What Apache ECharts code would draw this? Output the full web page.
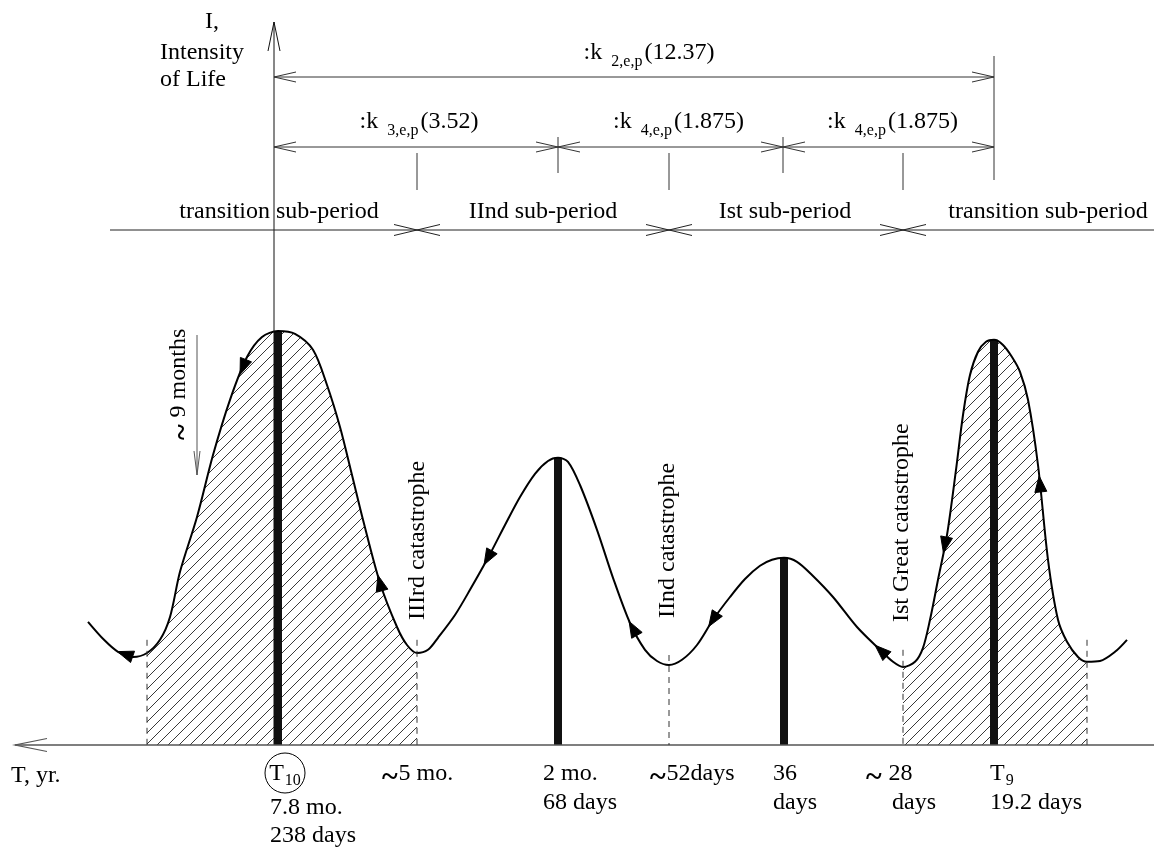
<!DOCTYPE html>
<html><head><meta charset="utf-8">
<script src="https://cdn.jsdelivr.net/npm/echarts@6/dist/echarts.min.js"></script>
<style>html,body{margin:0;padding:0;background:#fff}#c{width:1154px;height:849px}</style>
</head><body><div id="c"></div>
<script>
// ---------------- DATA (schematic units: T position, Intensity of Life) ----------------
const curveT = [8.8,10.4,11.8,13.3,14.7,16.0,17.0,18.0,19.7,21.3,23.0,24.7,26.2,27.8,29.5,31.3,32.7,34.0,35.2,36.3,38.0,39.7,40.7,41.7,42.8,43.8,45.5,47.0,48.8,50.5,52.0,53.5,54.8,55.8,56.8,58.0,59.7,61.3,63.0,64.5,65.7,66.9,68.2,69.7,71.3,73.0,74.5,76.0,77.2,78.4,79.7,81.2,83.3,85.7,88.0,89.3,90.3,91.5,92.3,93.0,93.8,94.7,95.6,96.3,97.0,97.8,98.6,99.4,100.3,101.2,102.0,102.8,103.8,104.8,105.8,106.7,107.8,108.7,110.0,111.5,112.7];
const curveI = [30.8,26.3,23.3,22.0,23.0,26.3,32.0,43.3,57.0,72.5,86.3,97.0,102.0,103.5,102.8,98.8,90.0,79.5,67.5,56.3,40.5,29.5,25.0,23.0,23.8,26.8,32.5,38.8,46.8,55.0,62.0,67.8,71.0,71.8,70.8,65.0,53.8,41.8,30.5,23.8,21.0,20.0,21.3,25.0,31.3,37.0,41.5,44.8,46.3,46.8,45.8,42.5,37.0,29.5,23.8,20.8,19.5,20.8,24.3,31.3,41.3,52.5,68.8,82.5,92.5,98.3,100.8,101.3,100.0,97.0,93.3,86.3,70.0,46.3,31.3,25.8,22.0,20.8,21.0,23.3,26.3];
const hatchRanges = [[14.7, 41.7], [90.3, 108.7]];
const peakT = [27.8, 55.8, 78.4, 99.4];
const peakI = [103.5, 71.8, 46.8, 101.3];
const catastropheT = [14.7, 41.7, 66.9, 90.3, 108.7];
const catastropheTop = [26.3, 26.3, 22.5, 23.8, 26.3];
const catastropheNames = ['IIIrd catastrophe', 'IInd catastrophe', 'Ist Great catastrophe'];
const arrowT = [12.5, 24.3, 38.0, 48.8, 63.3, 71.3, 88.1, 94.5, 104.0];
const kIndex = ['2,e,p', '3,e,p', '4,e,p', '4,e,p'];
const kValue = ['12.37', '3.52', '1.875', '1.875'];
const kFrom = [27.4, 27.4, 55.8, 78.3];
const kTo = [99.4, 55.8, 78.3, 99.4];
const subPeriodNames = ['transition sub-period', 'IInd sub-period', 'Ist sub-period', 'transition sub-period'];
const subPeriodBounds = [41.7, 66.9, 90.3];
const tickLine1 = ['T|10', '~5 mo.', '2 mo.', '~52days', '36', '~ 28', 'T|9'];
const tickLine2 = ['7.8 mo.', '', '68 days', '', 'days', 'days', '19.2 days'];
const tickLine3 = ['238 days', '', '', '', '', '', ''];
const axisTitleI = ['I,', 'Intensity', 'of Life'];
const axisTitleT = 'T, yr.';
const durationNote = '~ 9 months';

// ---------------- LAYOUT (positions in the same units) ----------------
const L = {
  xMax: 115.4, yMin: -26, yMax: 186.25,
  axisT: 27.4, axisTop: 180.75,
  rowK2: 167, rowK34: 149.5, rowSub: 128.75,
  kLabelY: [173, 155.75, 155.75, 155.75], kLabelShift: [1.5, 0.3, 0.8, 0.4],
  subLabelY: 133.25, subLabelX: [27.9, 54.3, 78.5, 104.8], subLineFrom: 11.0,
  catLabelX: [41.8, 66.8, 90.2], catLabelY: [31.25, 31.75, 30.75],
  tick1X: [28.5, 38.2, 54.3, 65.0, 77.3, 86.6, 99.0], tick2X: [27.0, 0, 54.3, 0, 77.3, 89.2, 99.0],
  tickY: [-7.25, -14.5], tickYT10: [-15.75, -22.75],
  monthsX: 17.9, monthsY: 76.25, monthsArrowX: 19.7, monthsArrowTop: 102.5, monthsArrowBot: 67.5
};
const FONT = '"Liberation Serif","Times New Roman",serif';

const curve = curveT.map((t, i) => [t, curveI[i]]);
const part = (a, b) => curve.filter(p => p[0] >= a - 1e-9 && p[0] <= b + 1e-9);

// hatch pattern
const pc = document.createElement('canvas'); pc.width = 11; pc.height = 11;
const g = pc.getContext('2d'); g.strokeStyle = '#222'; g.lineWidth = 0.9;
g.beginPath(); g.moveTo(0, 11); g.lineTo(11, 0); g.moveTo(-1, 1); g.lineTo(1, -1); g.moveTo(10, 12); g.lineTo(12, 10); g.stroke();

const rich = {
  a: { fontFamily: FONT, fontSize: 24, fill: '#000' },
  s: { fontFamily: FONT, fontSize: 16, fill: '#000', padding: [18, 2, 0, 9] },
  t: { fontFamily: FONT, fontSize: 16, fill: '#000', padding: [14, 0, 0, 1] },
  w: { fontFamily: FONT, fontSize: 30, fontWeight: 'bold', fill: '#000', padding: [8, 1, 0, 0] }
};
const tilde = s => s.split('~').map(x => x ? '{a|' + x + '}' : '').join('{w|~}');

function renderAnno(params, api) {
  const P = (t, i) => api.coord([t, i]);
  const ch = [];
  const seg = (a, b, w, c, dash) => { const st = { stroke: c || '#222', lineWidth: w || 1 }; if (dash) st.lineDash = dash; ch.push({ type: 'line', shape: { x1: a[0], y1: a[1], x2: b[0], y2: b[1] }, style: st }); };
  const vArrow = (tip, dx, dy, len, half, w, c) => {
    const bx = tip[0] - dx * len, by = tip[1] - dy * len, px = -dy, py = dx;
    ch.push({ type: 'polyline', shape: { points: [[bx + px * half, by + py * half], tip, [bx - px * half, by - py * half]] }, style: { stroke: c || '#222', lineWidth: w || 1, fill: null } });
  };
  const txt = (p, text, style, rot) => ch.push({ type: 'text', x: p[0], y: p[1], rotation: rot || 0, style: Object.assign({ text, fontFamily: FONT, fontSize: 24, fill: '#000', align: 'left', verticalAlign: 'middle' }, style || {}) });

  // I axis
  seg(P(L.axisT, 0), P(L.axisT, L.axisTop), 1, '#111');
  vArrow(P(L.axisT, L.axisTop), 0, -1, 29, 6, 1, '#111');
  txt(P(21.2, 180.75), axisTitleI[0], { align: 'center' });
  txt(P(16.0, 173), axisTitleI[1]);
  txt(P(16.0, 166.25), axisTitleI[2]);
  // T axis
  seg(P(1.5, 0), P(L.xMax, 0), 1.5, '#555');
  vArrow(P(1.5, 0), -1, 0, 32, 6.5, 1.2, '#555');
  txt(P(1.1, -7.75), axisTitleT);

  // k spans
  kFrom.forEach((f, i) => {
    const y = i === 0 ? L.rowK2 : L.rowK34;
    seg(P(f, y), P(kTo[i], y), 1, '#333');
    vArrow(P(f, y), -1, 0, 22, 5, 1, '#333');
    vArrow(P(kTo[i], y), 1, 0, 22, 5, 1, '#333');
    txt(P((f + kTo[i]) / 2 + L.kLabelShift[i], L.kLabelY[i]), '{a|:k}{s|' + kIndex[i] + '}{a|(' + kValue[i] + ')}', { align: 'center', rich });
  });
  seg(P(99.4, 141.25), P(99.4, 172.25), 1, '#333');
  [55.8, 78.3].forEach(t => seg(P(t, 143), P(t, 152), 1, '#333'));
  subPeriodBounds.forEach(t => seg(P(t, 138.75), P(t, 148), 1, '#333'));

  // sub-periods
  seg(P(L.subLineFrom, L.rowSub), P(L.xMax, L.rowSub), 1, '#222');
  subPeriodBounds.forEach(t => { vArrow(P(t, L.rowSub), 1, 0, 23, 5.5, 1, '#222'); vArrow(P(t, L.rowSub), -1, 0, 23, 5.5, 1, '#222'); });
  subPeriodNames.forEach((n, i) => txt(P(L.subLabelX[i], L.subLabelY), n, { align: 'center' }));

  // catastrophe dashed lines and names
  catastropheT.forEach((t, i) => seg(P(t, catastropheTop[i]), P(t, 0), 1, '#333', [6, 5]));
  catastropheNames.forEach((n, i) => txt(P(L.catLabelX[i], L.catLabelY[i]), n, {}, Math.PI / 2));

  // ~9 months
  txt(P(L.monthsX, L.monthsY), tilde(durationNote), { rich }, Math.PI / 2);
  seg(P(L.monthsArrowX, L.monthsArrowTop), P(L.monthsArrowX, L.monthsArrowBot), 1, '#555');
  vArrow(P(L.monthsArrowX, L.monthsArrowBot), 0, 1, 24, 3, 1, '#555');

  // bottom tick labels
  tickLine1.forEach((s, i) => {
    if (s.indexOf('|') >= 0) {
      const [a, b] = s.split('|');
      const p = P(L.tick1X[i], L.tickY[0]);
      txt(p, '{a|' + a + '}{t|' + b + '}', { align: i === 0 ? 'center' : 'left', rich });
      if (i === 0) ch.push({ type: 'circle', shape: { cx: p[0], cy: p[1] - 1, r: 20 }, style: { stroke: '#000', lineWidth: 1, fill: null } });
    } else txt(P(L.tick1X[i], L.tickY[0]), tilde(s), { rich });
    const y2 = i === 0 ? L.tickYT10 : [L.tickY[1]];
    if (tickLine2[i]) txt(P(L.tick2X[i], y2[0]), tickLine2[i]);
    if (tickLine3[i]) txt(P(L.tick2X[i], y2[1]), tickLine3[i]);
  });

  // direction arrows on the curve (travel from right to left)
  const pix = curve.map(p => P(p[0], p[1]));
  arrowT.forEach(t => {
    let k = 0; while (k < curve.length - 2 && curve[k + 1][0] < t) k++;
    const a = curve[k], b = curve[k + 1], f = (t - a[0]) / (b[0] - a[0]);
    const p = P(t, a[1] + (b[1] - a[1]) * f);
    let dx = pix[k][0] - pix[k + 1][0], dy = pix[k][1] - pix[k + 1][1];
    const n = Math.hypot(dx, dy); dx /= n; dy /= n;
    const tip = [p[0] + dx * 8, p[1] + dy * 8], bc = [p[0] - dx * 8, p[1] - dy * 8];
    ch.push({ type: 'polygon', shape: { points: [tip, [bc[0] - dy * 6, bc[1] + dx * 6], [bc[0] + dy * 6, bc[1] - dx * 6]] }, style: { fill: '#000', stroke: '#000', lineWidth: 1 } });
  });
  return { type: 'group', children: ch };
}

const chart = echarts.init(document.getElementById('c'));
chart.setOption({
  animation: false,
  backgroundColor: '#fff',
  grid: { left: 0, right: 0, top: 0, bottom: 0 },
  xAxis: { type: 'value', min: 0, max: L.xMax, show: false },
  yAxis: { type: 'value', min: L.yMin, max: L.yMax, show: false },
  series: [
    ...hatchRanges.map(r => ({ type: 'line', data: part(r[0], r[1]), smooth: 0.3, showSymbol: false, silent: true, z: 1, lineStyle: { width: 0 }, areaStyle: { color: { image: pc, repeat: 'repeat' }, opacity: 1 } })),
    { type: 'bar', data: peakT.map((t, i) => [t, peakI[i]]), barWidth: 8, itemStyle: { color: '#111' }, silent: true, z: 2 },
    { type: 'line', data: curve, smooth: 0.3, showSymbol: false, silent: true, z: 3, lineStyle: { color: '#000', width: 2 } },
    { type: 'custom', data: [[0, 0]], renderItem: renderAnno, silent: true, z: 4 }
  ]
});
</script></body></html>
